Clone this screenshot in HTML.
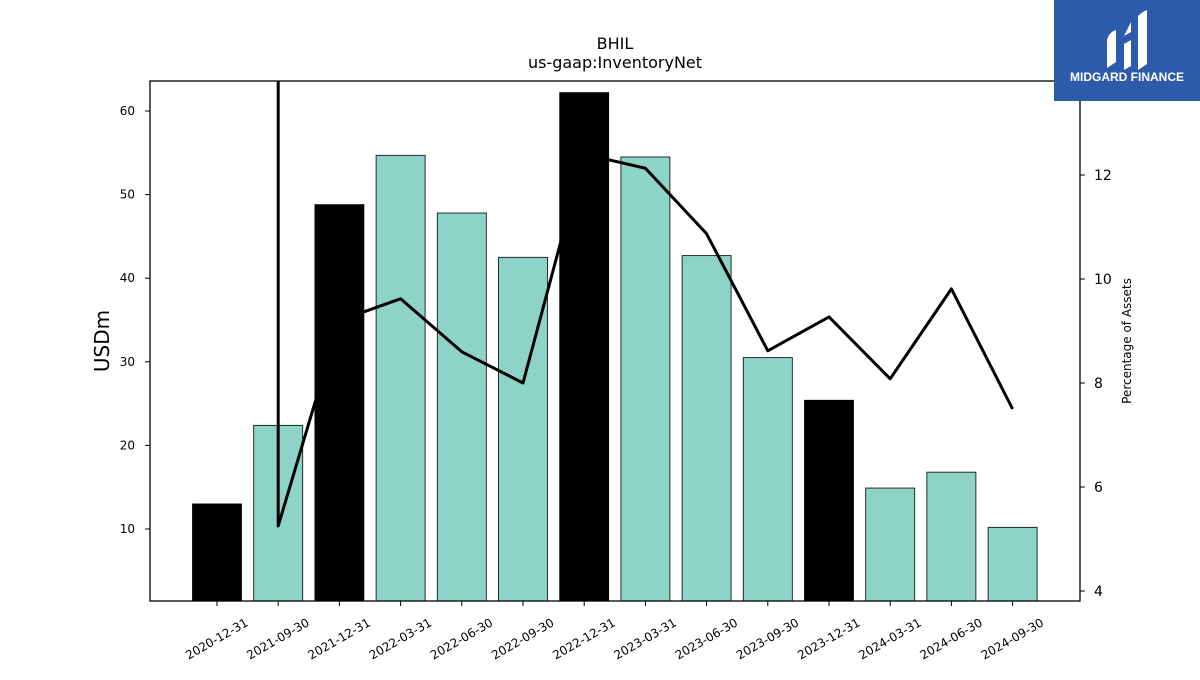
<!DOCTYPE html>
<html><head><meta charset="utf-8"><style>
body{margin:0;background:#fff;font-family:"Liberation Sans","DejaVu Sans",sans-serif;}
svg text{font-family:"DejaVu Sans","Liberation Sans",sans-serif;}
</style></head><body>
<svg id="c" width="1200" height="675" xmlns="http://www.w3.org/2000/svg">
<text x="615" y="49" text-anchor="middle" font-size="16">BHIL</text>
<text x="615" y="68" text-anchor="middle" font-size="16">us-gaap:InventoryNet</text>
<g id="bars"></g><g id="line"></g><g id="axes"></g>
<rect x="150" y="81" width="930" height="520" fill="none" stroke="#000" stroke-width="1.3"/>
<text transform="translate(109,341) rotate(-90)" text-anchor="middle" font-size="20">USDm</text>
<text transform="translate(1131,341) rotate(-90)" text-anchor="middle" font-size="12">Percentage of Assets</text>
<g>
<rect x="1054" y="0" width="146" height="101" fill="#2c5bab"/>
<path d="M1107 68 L1107 40 Q1109 32 1116 30 L1116 62 Z M1124 70 L1124 44 L1131 40 L1131 66 Z M1124 36 L1131 22 L1131 32 Z M1138 70 L1138 16 Q1142 12 1147 10 L1147 64 Z" fill="#fff"/>
<text x="1127" y="81" text-anchor="middle" font-size="12" font-weight="bold" fill="#fff" style="font-family:'Liberation Sans',sans-serif">MIDGARD FINANCE</text>
</g>
</svg>
<script>
const categories=['2020-12-31','2021-09-30','2021-12-31','2022-03-31','2022-06-30','2022-09-30','2022-12-31','2023-03-31','2023-06-30','2023-09-30','2023-12-31','2024-03-31','2024-06-30','2024-09-30'];
const barValues=[13.0,22.4,48.8,54.7,47.8,42.5,62.2,54.5,42.7,30.5,25.4,14.9,16.8,10.2];
const lineDates=['2021-09-30','2021-09-30','2021-12-31','2022-03-31','2022-06-30','2022-09-30','2022-12-31','2023-03-31','2023-06-30','2023-09-30','2023-12-31','2024-03-31','2024-06-30','2024-09-30'];
const lineValues=[20,5.25,9.2,9.62,8.6,8.0,12.4,12.13,10.87,8.62,9.27,8.08,9.81,7.5];
const leftTicks=[10,20,30,40,50,60];
const rightTicks=[4,6,8,10,12];
const NS='http://www.w3.org/2000/svg';
const X=i=>217+i*61.2;
const Y=v=>529-(v-10)*8.36;
const Y2=p=>591-(p-4)*52;
function mk(t,a,p){const e=document.createElementNS(NS,t);for(const k in a)e.setAttribute(k,a[k]);p.appendChild(e);return e;}
const bars=document.getElementById('bars'),line=document.getElementById('line'),axes=document.getElementById('axes');
categories.forEach((c,i)=>{
  const yearEnd=c.endsWith('12-31');
  const r=mk('rect',{x:X(i)-24.5,y:Y(barValues[i]),width:49,height:601-Y(barValues[i]),fill:yearEnd?'#000':'#8dd3c7',stroke:'#000','stroke-width':0.8},bars);
  
  
  mk('line',{x1:X(i),x2:X(i),y1:601,y2:606,stroke:'#000'},axes);
  const t=mk('text',{x:0,y:0,'font-size':12,'text-anchor':'end',transform:`translate(${X(i)+32},${625}) rotate(-30)`},axes);
  t.textContent=c;
  
  
});
const pts=lineDates.map((d,i)=>X(categories.indexOf(d))+','+Y2(lineValues[i])).join(' ');
const cp=mk('clipPath',{id:'cl'},line);mk('rect',{x:150,y:81,width:930,height:520},cp);
const pl=mk('polyline',{points:pts,fill:'none',stroke:'#000','stroke-width':3,'clip-path':'url(#cl)','stroke-linejoin':'round'},line);


leftTicks.forEach(v=>{
  mk('line',{x1:145,x2:150,y1:Y(v),y2:Y(v),stroke:'#000'},axes);
  const t=mk('text',{x:135,y:Y(v)+4,'font-size':12,'text-anchor':'end'},axes);t.textContent=v;
  
  
});
rightTicks.forEach(v=>{
  mk('line',{x1:1080,x2:1085,y1:Y2(v),y2:Y2(v),stroke:'#000'},axes);
  const t=mk('text',{x:1094,y:Y2(v)+5,'font-size':14},axes);t.textContent=v;
  
  
});
</script>
</body></html>
